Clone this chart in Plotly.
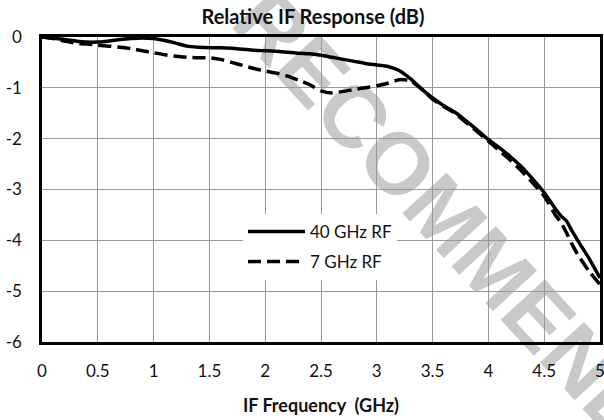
import plotly.graph_objects as go

# ---- data ----
freq_ghz = [0.0, 0.1, 0.2, 0.3, 0.4, 0.5, 0.6, 0.7, 0.8, 0.9,
            1.0, 1.1, 1.2, 1.3, 1.4, 1.5, 1.6, 1.7, 1.8, 1.9,
            2.0, 2.1, 2.2, 2.3, 2.4, 2.5, 2.6, 2.7, 2.8, 2.9,
            3.0, 3.1, 3.2, 3.3, 3.4, 3.5, 3.6, 3.7, 3.8, 3.9,
            4.0, 4.1, 4.2, 4.3, 4.4, 4.5, 4.6, 4.65, 4.7, 4.75, 4.8, 4.9, 5.0]

resp_40ghz = [0.0, -0.02, -0.05, -0.08, -0.10, -0.10, -0.08, -0.05, -0.03, -0.02,
              -0.03, -0.07, -0.12, -0.18, -0.20, -0.21, -0.21, -0.22, -0.24, -0.26,
              -0.27, -0.28, -0.30, -0.32, -0.33, -0.36, -0.40, -0.44, -0.48, -0.52,
              -0.55, -0.58, -0.66, -0.82, -1.02, -1.20, -1.35, -1.48, -1.65, -1.83,
              -2.02, -2.18, -2.36, -2.56, -2.80, -3.06, -3.38, -3.52, -3.62, -3.82, -4.00, -4.35, -4.74]

resp_7ghz = [0.0, -0.03, -0.08, -0.12, -0.14, -0.16, -0.18, -0.20, -0.23, -0.27,
             -0.31, -0.35, -0.38, -0.40, -0.41, -0.41, -0.44, -0.50, -0.56, -0.62,
             -0.67, -0.71, -0.77, -0.85, -0.94, -1.06, -1.10, -1.07, -1.03, -1.00,
             -0.96, -0.91, -0.84, -0.86, -1.02, -1.22, -1.37, -1.50, -1.68, -1.86,
             -2.05, -2.24, -2.43, -2.64, -2.88, -3.13, -3.50, -3.65, -3.85, -4.08, -4.28, -4.60, -4.87]

x_ticks = [0, 0.5, 1, 1.5, 2, 2.5, 3, 3.5, 4, 4.5, 5]
x_tick_text = ["0", "0.5", "1", "1.5", "2", "2.5", "3", "3.5", "4", "4.5", "5"]
y_ticks = [0, -1, -2, -3, -4, -5, -6]
y_tick_text = ["0", "-1", "-2", "-3", "-4", "-5", "-6"]

FONT = "Lato"
TXT = "#111111"
W, H = 604, 420

fig = go.Figure()
fig.add_trace(go.Scatter(
    x=freq_ghz, y=resp_40ghz, mode="lines", name="40 GHz RF",
    legendgroup="a",
    line=dict(color="black", width=3.5, shape="spline", smoothing=0.6),
))
fig.add_trace(go.Scatter(
    x=freq_ghz, y=resp_7ghz, mode="lines", name="7 GHz RF",
    legendgroup="b",
    line=dict(color="black", width=3.5, dash="13px,6px", shape="spline", smoothing=0.6),
))

axis_common = dict(
    showline=True, linecolor="black", linewidth=2.5, mirror=True,
    showgrid=True, gridcolor="#999999", gridwidth=1,
    zeroline=False, automargin=False, ticklabeloverflow="allow",
    ticks="outside", tickcolor="rgba(0,0,0,0)",
    tickfont=dict(family=FONT, size=17, color=TXT),
)

fig.update_xaxes(
    range=[0, 5], tickmode="array", tickvals=x_ticks, ticktext=x_tick_text,
    ticklen=12,
    title=dict(text="<b>IF Frequency  (GHz)</b>", font=dict(family=FONT, size=18, color=TXT),
               standoff=20),
    **axis_common,
)
fig.update_yaxes(
    range=[-6, 0], tickmode="array", tickvals=y_ticks, ticktext=y_tick_text,
    ticklen=14,
    **axis_common,
)

# watermark (below the plot layers)
fig.add_shape(
    type="line", xref="paper", yref="paper",
    x0=(426.3 - 42) / 558, y0=(342.5 - 182.4) / 306,
    x1=(561.7 - 42) / 558, y1=(342.5 - 329.6) / 306,
    line=dict(width=0, color="rgba(0,0,0,0)"),
    layer="below",
    label=dict(text="<b>RECOMMENDED</b>", textposition="middle", textangle=47.4,
               yanchor="middle", xanchor="center",
               font=dict(family="Liberation Sans", size=87, color="#c9c9c9")),
)

fig.update_layout(
    template="none",
    width=W, height=H,
    margin=dict(l=42, r=4, t=37, b=78, autoexpand=False),
    paper_bgcolor="white", plot_bgcolor="white",
    title=dict(text="<b>Relative IF Response (dB)</b>", x=313 / W, xanchor="center",
               y=1 - 17 / H, yanchor="middle", yref="container",
               font=dict(family=FONT, size=20, color=TXT)),
    legend=dict(x=(243 - 42) / 558, xanchor="left", y=(342.5 - 214) / 306, yanchor="top",
                bgcolor="white", borderwidth=0, itemwidth=57,
                traceorder="grouped", tracegroupgap=5,
                font=dict(family=FONT, size=17, color=TXT)),
    showlegend=True,
)

# remove the browser's default 8px body margin so the figure fills the window
fig.write_html("out.html", config={"displayModeBar": False},
               post_script="document.body.style.margin='0';")
